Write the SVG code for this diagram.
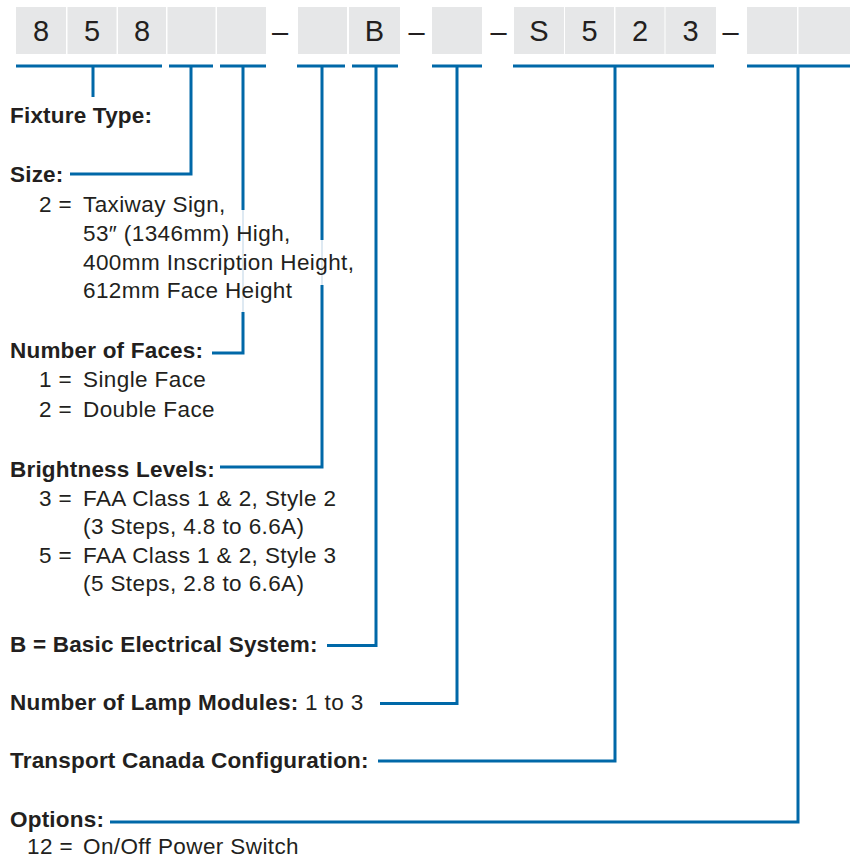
<svg xmlns="http://www.w3.org/2000/svg" width="850" height="861" viewBox="0 0 850 861">
<style>
.box{fill:#e6e7e8}
.code{font-family:"Liberation Sans",Arial,sans-serif;font-size:29px;fill:#231f20;text-anchor:middle}
.b{font-family:"Liberation Sans",Arial,sans-serif;font-size:22.5px;font-weight:bold;fill:#231f20;letter-spacing:0.2px}
.r{font-family:"Liberation Sans",Arial,sans-serif;font-size:22.5px;fill:#231f20;letter-spacing:0.4px}
.ln{fill:none;stroke:#0068a8;stroke-width:3}
.faint{fill:none;stroke:#d3e2ee;stroke-width:1.5}
</style>
<rect width="850" height="861" fill="#ffffff"/>
<g id="code">
<rect class="box" x="16" y="7" width="50" height="47"/>
<rect class="box" x="67.5" y="7" width="49" height="47"/>
<rect class="box" x="118" y="7" width="48" height="47"/>
<rect class="box" x="167.5" y="7" width="48" height="47"/>
<rect class="box" x="217" y="7" width="49" height="47"/>
<rect class="box" x="298" y="7" width="49" height="47"/>
<rect class="box" x="349" y="7" width="51" height="47"/>
<rect class="box" x="432" y="7" width="50" height="47"/>
<rect class="box" x="514" y="7" width="50" height="47"/>
<rect class="box" x="565" y="7" width="49" height="47"/>
<rect class="box" x="615.5" y="7" width="49" height="47"/>
<rect class="box" x="665.5" y="7" width="50.5" height="47"/>
<rect class="box" x="747" y="7" width="50" height="47"/>
<rect class="box" x="798.5" y="7" width="51.5" height="47"/>
<text class="code" x="41" y="41">8</text>
<text class="code" x="92" y="41">5</text>
<text class="code" x="142" y="41">8</text>
<text class="code" x="374.5" y="41">B</text>
<text class="code" x="539" y="41">S</text>
<text class="code" x="589.5" y="41">5</text>
<text class="code" x="640" y="41">2</text>
<text class="code" x="690.5" y="41">3</text>
<text class="code" x="280" y="42">–</text>
<text class="code" x="416.5" y="42">–</text>
<text class="code" x="498.5" y="42">–</text>
<text class="code" x="730.5" y="42">–</text>
</g>
<g id="connectors">
<path class="ln" d="M16,66H162M93,66V97"/>
<path class="ln" d="M169,66H213M191,66V174H70"/>
<path class="ln" d="M220,66H266M243,66V210M243,312V353H212"/>
<path class="faint" d="M243,210V312"/>
<path class="ln" d="M297,66H345M322,66V240M322,285V467H220"/>
<path class="faint" d="M322,240V285"/>
<path class="ln" d="M352,66H398M376,66V645.5H327"/>
<path class="ln" d="M432,66H482M457,66V703.5H380"/>
<path class="ln" d="M513,66H714M615,66V761H378"/>
<path class="ln" d="M747,66H850M798,66V822H110"/>
</g>
<g id="fixture-type">
<text class="b" x="10" y="123">Fixture Type:</text>
</g>
<g id="size">
<text class="b" x="10" y="182">Size:</text>
<text class="r" x="39" y="212">2 =</text>
<text class="r" x="83" y="212">Taxiway Sign,</text>
<text class="r" x="83" y="241">53″ (1346mm) High,</text>
<text class="r" x="83" y="270">400mm Inscription Height,</text>
<text class="r" x="83" y="298">612mm Face Height</text>
</g>
<g id="faces">
<text class="b" x="10" y="358">Number of Faces:</text>
<text class="r" x="39" y="387">1 =</text>
<text class="r" x="83" y="387">Single Face</text>
<text class="r" x="39" y="417">2 =</text>
<text class="r" x="83" y="417">Double Face</text>
</g>
<g id="brightness">
<text class="b" x="10" y="476.5">Brightness Levels:</text>
<text class="r" x="39" y="505.5">3 =</text>
<text class="r" x="83" y="505.5">FAA Class 1 &amp; 2, Style 2</text>
<text class="r" x="83" y="534">(3 Steps, 4.8 to 6.6A)</text>
<text class="r" x="39" y="562.5">5 =</text>
<text class="r" x="83" y="562.5">FAA Class 1 &amp; 2, Style 3</text>
<text class="r" x="83" y="591">(5 Steps, 2.8 to 6.6A)</text>
</g>
<g id="electrical">
<text class="b" x="10" y="651.5">B = Basic Electrical System:</text>
</g>
<g id="lamp-modules">
<text x="10" y="710"><tspan class="b">Number of Lamp Modules:</tspan><tspan class="r"> 1 to 3</tspan></text>
</g>
<g id="transport-canada">
<text class="b" x="10" y="768">Transport Canada Configuration:</text>
</g>
<g id="options">
<text class="b" x="10" y="826.5">Options:</text>
<text class="r" x="27" y="853.5">12 =</text>
<text class="r" x="83" y="853.5">On/Off Power Switch</text>
</g>
</svg>
